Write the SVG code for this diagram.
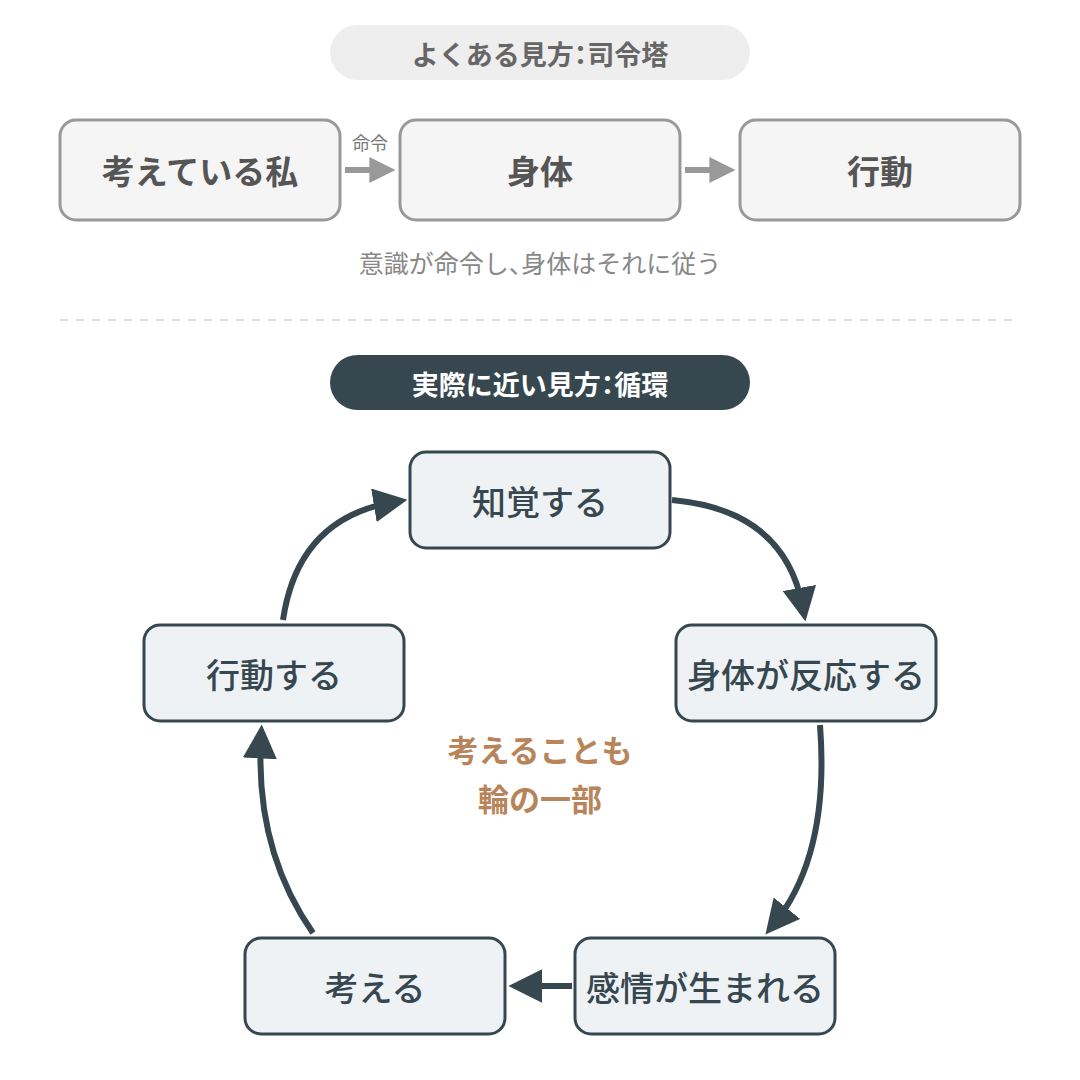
<svg xmlns="http://www.w3.org/2000/svg" width="1080" height="1080" viewBox="0 0 1080 1080">
<style>
text{font-family:"Noto Sans CJK JP","Noto Sans",sans-serif;text-anchor:middle;dominant-baseline:central}
.p{font-feature-settings:"halt"}
.gb{fill:#f5f5f5;stroke:#999;stroke-width:3}
.gt{fill:#555;font-size:33px;font-weight:bold}
.db{fill:#eef2f5;stroke:#37474f;stroke-width:3}
.dt{fill:#37474f;font-size:34px;font-weight:500}
.ga{stroke:#999;stroke-width:6;fill:none}
.da{stroke:#37474f;stroke-width:6;fill:none}
</style>
<defs>
<marker id="mg" viewBox="0 0 10 10" refX="6" refY="5" markerWidth="26" markerHeight="26" markerUnits="userSpaceOnUse" orient="auto"><path d="M0,0L10,5L0,10z" fill="#999"/></marker>
<marker id="md" viewBox="0 0 10 10" refX="6" refY="5" markerWidth="34" markerHeight="34" markerUnits="userSpaceOnUse" orient="auto"><path d="M0,0L10,5L0,10z" fill="#37474f"/></marker>
</defs>
<rect width="1080" height="1080" fill="#fff"/>
<g id="title1"><rect x="330" y="25" width="420" height="55" rx="27.5" fill="#eeeeee"/><text x="540" y="53" font-size="27" font-weight="bold" fill="#666">よくある見方<tspan class="p">：</tspan>司令塔</text></g>
<g id="n-think"><rect class="gb" x="60" y="120" width="280" height="100" rx="16"/><text class="gt" x="200" y="170">考えている私</text></g>
<g id="n-body"><rect class="gb" x="400" y="120" width="280" height="100" rx="16"/><text class="gt" x="540" y="170">身体</text></g>
<g id="n-act"><rect class="gb" x="740" y="120" width="280" height="100" rx="16"/><text class="gt" x="880" y="170">行動</text></g>
<text x="540" y="262" font-size="25" fill="#888">意識が命令し<tspan class="p">、</tspan>身体はそれに従う</text>
<line x1="60" y1="320" x2="1020" y2="320" stroke="#ddd" stroke-width="2" stroke-dasharray="8,8"/>
<g id="title2"><rect x="330" y="355" width="420" height="55" rx="27.5" fill="#37474f"/><text x="540" y="383" font-size="27" font-weight="bold" fill="#fff">実際に近い見方<tspan class="p">：</tspan>循環</text></g>
<g id="c1"><rect class="db" x="410" y="452" width="260" height="96" rx="16"/><text class="dt" x="540" y="500">知覚する</text></g>
<g id="c2"><rect class="db" x="676" y="625" width="260" height="96" rx="16"/><text class="dt" x="806" y="673">身体が反応する</text></g>
<g id="c3"><rect class="db" x="575" y="938" width="260" height="96" rx="16"/><text class="dt" x="705" y="986">感情が生まれる</text></g>
<g id="c4"><rect class="db" x="245" y="938" width="260" height="96" rx="16"/><text class="dt" x="375" y="986">考える</text></g>
<g id="c5"><rect class="db" x="144" y="625" width="260" height="96" rx="16"/><text class="dt" x="274" y="673">行動する</text></g>
<g id="center"><text x="540" y="748" font-size="31" font-weight="bold" fill="#b8845a">考えることも</text><text x="540" y="797" font-size="31" font-weight="bold" fill="#b8845a">輪の一部</text></g>
<g id="connectors">
<line class="ga" x1="345" y1="170" x2="385" y2="170" marker-end="url(#mg)"/>
<text x="370" y="142" font-size="18" fill="#777">命令</text>
<line class="ga" x1="685" y1="170" x2="725" y2="170" marker-end="url(#mg)"/>
<path class="da" d="M672,500 Q785,510 803,608" marker-end="url(#md)"/>
<path class="da" d="M820,725 Q830,855 774,924" marker-end="url(#md)"/>
<line class="da" x1="572" y1="986" x2="522" y2="986" marker-end="url(#md)"/>
<path class="da" d="M313,933 Q255,850 261,738" marker-end="url(#md)"/>
<path class="da" d="M283,620 Q298,518 394,502" marker-end="url(#md)"/>
</g>
</svg>
